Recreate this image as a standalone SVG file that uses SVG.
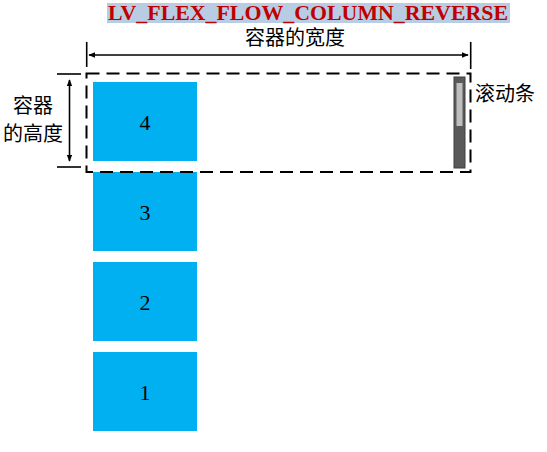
<svg xmlns="http://www.w3.org/2000/svg" width="547" height="452" viewBox="0 0 547 452">
<style>
.box{fill:#00b0f0}
.num{font-family:"Liberation Serif",serif;font-size:22px;fill:#000;text-anchor:middle}
.cjk{font-family:"Liberation Sans","Noto Sans CJK SC",sans-serif;font-size:20px;fill:#000}
.dash{fill:none;stroke:#000;stroke-width:2;stroke-dasharray:13 7}
.line{stroke:#000;stroke-width:1.6;fill:none}
</style>
<defs>
<marker id="ah" viewBox="0 0 10 10" refX="9" refY="5" markerWidth="7" markerHeight="7" orient="auto-start-reverse" markerUnits="userSpaceOnUse">
<path d="M0,1 L10,5 L0,9 Z" fill="#000"/>
</marker>
</defs>
<rect x="107" y="3" width="403" height="20" fill="#b8cde3"/>
<text x="108" y="20" font-family="'Liberation Serif',serif" font-weight="bold" font-size="22" fill="#c00000" textLength="400" lengthAdjust="spacingAndGlyphs">LV_FLEX_FLOW_COLUMN_REVERSE</text>
<text class="cjk" x="295" y="45" font-size="21" text-anchor="middle">容器的宽度</text>
<text class="cjk" x="33" y="113" text-anchor="middle">容器</text>
<text class="cjk" x="33" y="141" text-anchor="middle">的高度</text>
<text class="cjk" x="475" y="101" font-size="21">滚动条</text>
<g id="item1"><rect class="box" x="93" y="352" width="104" height="79"/><text class="num" x="145" y="400">1</text></g>
<g id="item2"><rect class="box" x="93" y="262" width="104" height="79"/><text class="num" x="145" y="310">2</text></g>
<g id="item3"><rect class="box" x="93" y="172" width="104" height="79"/><text class="num" x="145" y="220">3</text></g>
<g id="item4"><rect class="box" x="93" y="82" width="104" height="79"/><text class="num" x="145" y="130">4</text></g>
<g id="scrollbar">
<rect x="454" y="77" width="11" height="91" fill="#595959" stroke="#404040" stroke-width="1"/>
<rect x="456.5" y="83" width="6" height="43" fill="#bfbfbf"/>
</g>
<g id="container"><rect class="dash" x="86.5" y="73.5" width="384" height="98.5"/></g>
<g id="connectors">
<line class="line" x1="86.7" y1="42" x2="86.7" y2="67"/>
<line class="line" x1="470.7" y1="42" x2="470.7" y2="69"/>
<line class="line" x1="89" y1="55" x2="468" y2="55" marker-start="url(#ah)" marker-end="url(#ah)"/>
<line class="line" x1="57" y1="74" x2="81" y2="74"/>
<line class="line" x1="57" y1="167" x2="81" y2="167"/>
<line class="line" x1="69.5" y1="80" x2="69.5" y2="161" marker-start="url(#ah)" marker-end="url(#ah)"/>
</g>
</svg>
